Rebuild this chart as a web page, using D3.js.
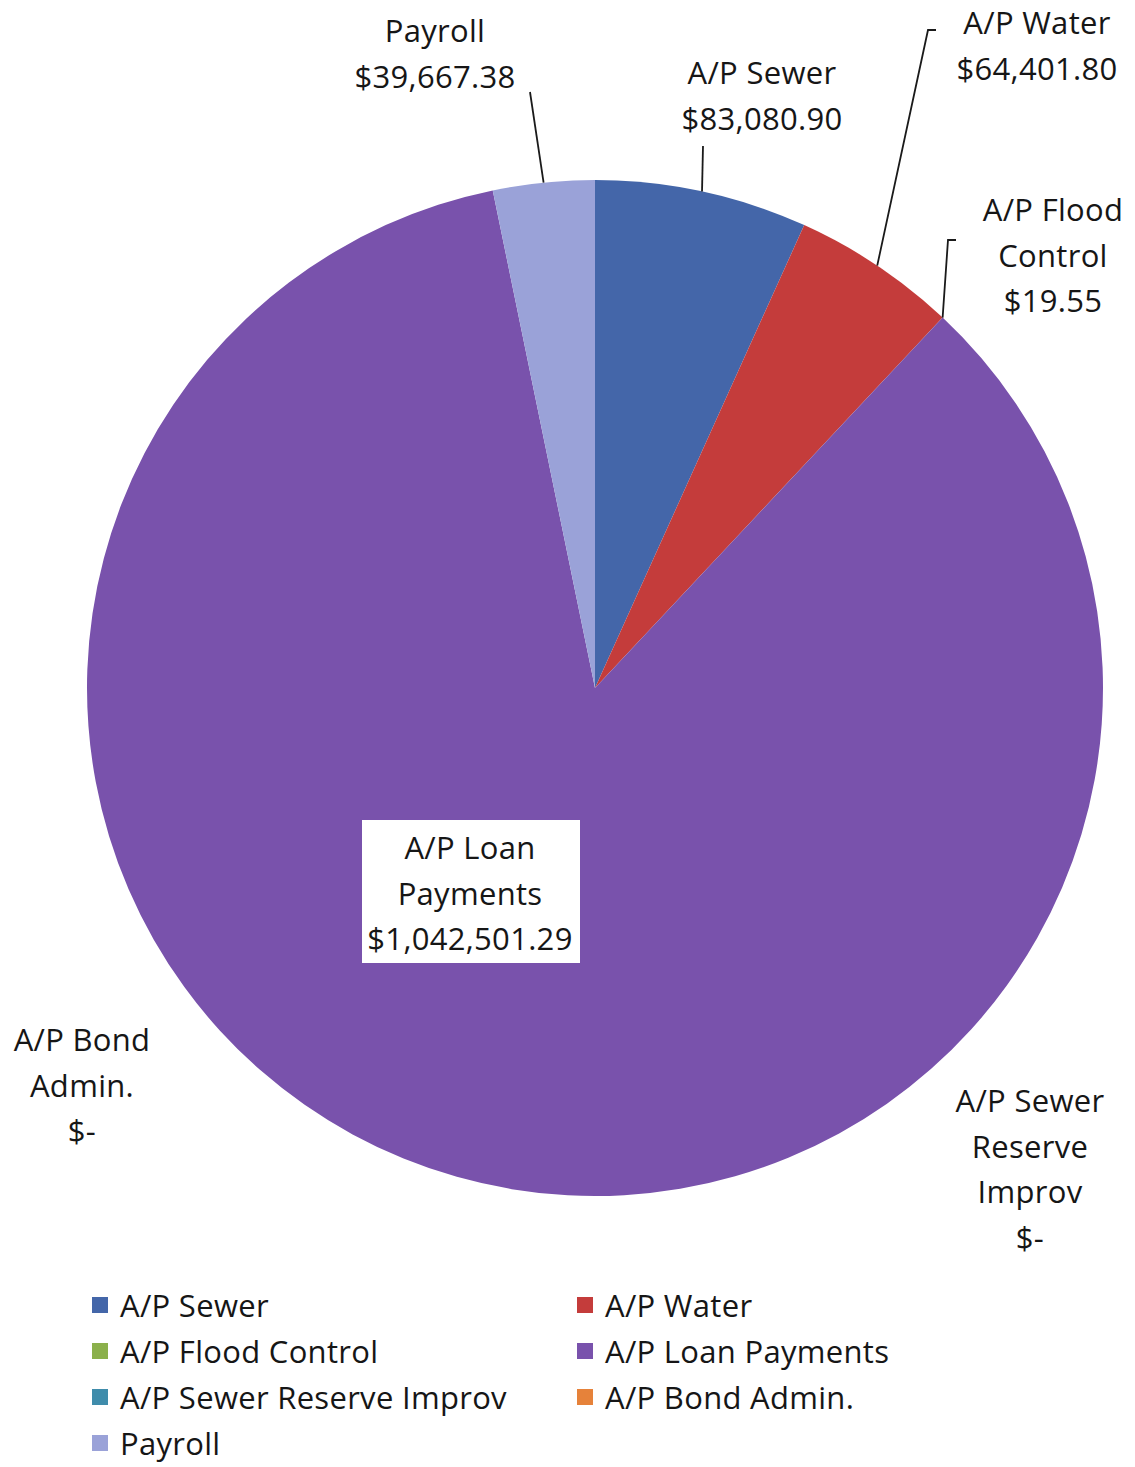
<!DOCTYPE html>
<html>
<head>
<meta charset="utf-8">
<script src="https://cdn.jsdelivr.net/npm/d3@7"></script>
<style>
  html, body { margin: 0; padding: 0; background: #fff; }
  svg { display: block; }
  text { font-family: "Open Sans", Lato, sans-serif; fill: #161616; letter-spacing: 0.3px; }
</style>
</head>
<body>
<svg id="chart" width="1135" height="1467"></svg>
<script>
// Accounts payable breakdown, clockwise from 12 o'clock
const categories = [
  "A/P Sewer",
  "A/P Water",
  "A/P Flood Control",
  "A/P Loan Payments",
  "A/P Sewer Reserve Improv",
  "A/P Bond Admin.",
  "Payroll"
];
const amounts = [83080.90, 64401.80, 19.55, 1042501.29, 0, 0, 39667.38];
const sliceColors = ["#4466a9", "#c43c3b", "#8bb04b", "#7952ac", "#3f8cab", "#e6823a", "#9aa2d8"];

// Label text lines and placement for each slice's data label
const labelLines = [
  ["A/P Sewer"],
  ["A/P Water"],
  ["A/P Flood", "Control"],
  ["A/P Loan", "Payments"],
  ["A/P Sewer", "Reserve", "Improv"],
  ["A/P Bond", "Admin."],
  ["Payroll"]
];
const labelPos = [
  { x: 762, y: 72 },
  { x: 1037, y: 22 },
  { x: 1053, y: 209 },
  { x: 470, y: 847 },
  { x: 1030, y: 1100 },
  { x: 82, y: 1039 },
  { x: 435, y: 30 }
];
// leader lines: label-side anchor (with optional elbow) for slices that have one
const leaders = [
  { pts: [[703, 146]] },
  { pts: [[936, 30], [928, 30]] },
  { pts: [[956, 240], [948, 240]] },
  null,
  null,
  null,
  { pts: [[530, 92]] }
];

const cx = 595, cy = 688, R = 508;
const lineH = 45.5;
const fontSize = 31;

const svg = d3.select("#chart");

const fmtMoney = v => v === 0 ? "$-" : "$" + d3.format(",.2f")(v);

const data = categories.map((c, i) => ({ name: c, value: amounts[i], i }));
const pie = d3.pie().value(d => d.value).sort(null);
const arcs = pie(data);
const arcGen = d3.arc().innerRadius(0).outerRadius(R);

const g = svg.append("g").attr("transform", `translate(${cx},${cy})`);
g.selectAll("path.slice")
  .data(arcs.filter(a => a.data.value > 0))
  .join("path")
  .attr("class", "slice")
  .attr("d", arcGen)
  .attr("fill", d => sliceColors[d.data.i]);

// Leader lines ending on the slice's outer edge at its mid-angle
arcs.forEach((a, i) => {
  const L = leaders[i];
  if (!L) return;
  const mid = (a.startAngle + a.endAngle) / 2;
  const ex = cx + R * Math.sin(mid);
  const ey = cy - R * Math.cos(mid);
  const pts = L.pts.concat([[ex, ey]]);
  svg.append("path")
    .attr("d", d3.line()(pts))
    .attr("fill", "none")
    .attr("stroke", "#1a1a1a")
    .attr("stroke-width", 1.8);
});

// Data labels
arcs.forEach((a, i) => {
  const lines = labelLines[i].concat([fmtMoney(a.data.value)]);
  const p = labelPos[i];
  if (i === 3) {
    svg.append("rect")
      .attr("x", 362).attr("y", 820)
      .attr("width", 218).attr("height", 143)
      .attr("fill", "#fff");
  }
  const t = svg.append("text")
    .attr("text-anchor", "middle")
    .attr("font-size", fontSize);
  lines.forEach((s, k) => {
    t.append("tspan")
      .attr("x", p.x)
      .attr("y", p.y + k * lineH)
      .attr("dominant-baseline", "central")
      .text(s);
  });
});

// Legend, two columns filled row by row
const legendCols = [92, 577];
const legendRow0 = 1305, legendRowH = 46;
const lg = svg.append("g");
categories.forEach((c, i) => {
  const col = i % 2, row = Math.floor(i / 2);
  const x = legendCols[col], y = legendRow0 + row * legendRowH;
  lg.append("rect")
    .attr("x", x).attr("y", y - 8)
    .attr("width", 16).attr("height", 16)
    .attr("fill", sliceColors[i]);
  lg.append("text")
    .attr("x", x + 28).attr("y", y)
    .attr("dominant-baseline", "central")
    .attr("font-size", fontSize)
    .text(c);
});
</script>
</body>
</html>
